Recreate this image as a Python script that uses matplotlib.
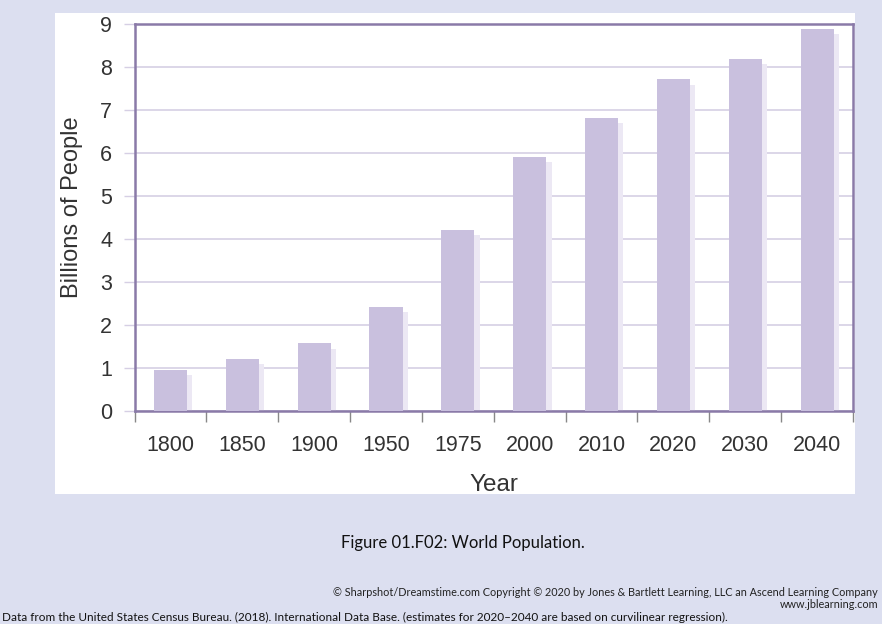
import matplotlib
matplotlib.use("Agg")
import matplotlib.pyplot as plt
from matplotlib.patches import Rectangle

# world population, billions
years = ["1800", "1850", "1900", "1950", "1975", "2000", "2010", "2020", "2030", "2040"]
population = [0.95, 1.21, 1.57, 2.43, 4.21, 5.91, 6.81, 7.71, 8.19, 8.88]
y_ticks = [0, 1, 2, 3, 4, 5, 6, 7, 8, 9]

caption = "Figure 01.F02: World Population."
credit = ("\u00a9 Sharpshot/Dreamstime.com Copyright \u00a9 2020 by Jones & Bartlett Learning, "
          "LLC an Ascend Learning Company")
site = "www.jblearning.com"
source = ("Data from the United States Census Bureau. (2018). International Data Base. "
          "(estimates for 2020\u20132040 are based on curvilinear regression).")

# colours
page_bg = "#dcdff0"
bar_col = "#c9c0de"
shadow_col = "#ece8f4"
frame_col = "#8a7aa8"
grid_col = "#d6cfe4"
text_col = "#333333"

W, H = 882, 624
fig = plt.figure(figsize=(W / 100, H / 100), dpi=100, facecolor=page_bg)

# white panel behind the chart
fig.patches.append(Rectangle((55 / W, 1 - 494 / H), 800 / W, 481 / H,
                             transform=fig.transFigure, facecolor="white",
                             edgecolor="none", zorder=0))

ax = fig.add_axes([134.5 / W, 1 - 411 / H, (853 - 134.5) / W, (411 - 24) / H])
ax.set_zorder(2)
ax.set_facecolor("white")

x = list(range(len(years)))
# soft drop shadow offset to the right and down
ax.bar([i + 0.075 for i in x], [v - 0.12 for v in population], width=0.46,
       color=shadow_col, zorder=2)
ax.bar(x, population, width=0.46, color=bar_col, zorder=3)

ax.set_xlim(-0.5, len(years) - 0.5)
ax.set_ylim(0, 9)
ax.set_yticks(y_ticks)
ax.set_yticklabels([str(t) for t in y_ticks], fontsize=15.5, color=text_col,
                   family="Liberation Sans")
ax.yaxis.grid(True, color=grid_col, linewidth=1.2, zorder=1)
ax.set_axisbelow(True)

# category labels centred, tick marks between categories
ax.set_xticks(x)
ax.set_xticklabels(years, fontsize=15.5, color=text_col, family="Liberation Sans")
ax.tick_params(axis="x", which="major", length=0, pad=17)
ax.set_xticks([i - 0.5 for i in range(len(years) + 1)], minor=True)
ax.tick_params(axis="x", which="minor", length=8, width=1, color="#888888")
ax.tick_params(axis="y", length=8, width=1, color=grid_col, pad=8)

for side in ["left", "bottom", "right", "top"]:
    ax.spines[side].set_color(frame_col)
    ax.spines[side].set_linewidth(1.8)

ax.set_xlabel("Year", fontsize=17.5, color=text_col, family="Liberation Sans", labelpad=13)
ax.set_ylabel("Billions of People", fontsize=17, color=text_col,
              family="Liberation Sans", labelpad=12, y=0.527)

fig.text(463 / W, 1 - 543 / H, caption, ha="center", va="center",
         fontsize=12, family="Lato", color="#111111")
fig.text(878 / W, 1 - 593 / H, credit, ha="right", va="center",
         fontsize=7.8, family="Lato", color="#222222")
fig.text(878 / W, 1 - 605 / H, site, ha="right", va="center",
         fontsize=7.8, family="Lato", color="#222222")
fig.text(2 / W, 1 - 617 / H, source, ha="left", va="center",
         fontsize=8.5, family="Lato", color="#111111")

fig.savefig("out.png", dpi=100, facecolor=page_bg)
